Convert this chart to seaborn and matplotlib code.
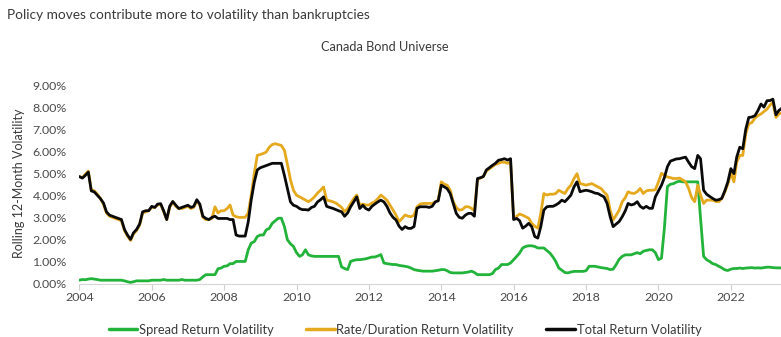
import numpy as np
import pandas as pd
import matplotlib
matplotlib.use("Agg")
import matplotlib.pyplot as plt
import matplotlib.dates as mdates
from matplotlib.lines import Line2D
import seaborn as sns

# ---------------- data (monthly, Jan 2004 - May 2023, % volatility) ----------------
start_month = "2004-01-01"

spread_vol = [
    # 2004
    0.15, 0.18, 0.17, 0.20, 0.22, 0.20, 0.18, 0.15, 0.15, 0.15, 0.15, 0.15,
    # 2005
    0.15, 0.15, 0.15, 0.12, 0.08, 0.05, 0.08, 0.12, 0.12, 0.12, 0.12, 0.12,
    # 2006
    0.15, 0.15, 0.15, 0.15, 0.18, 0.15, 0.15, 0.15, 0.15, 0.15, 0.18, 0.15,
    # 2007
    0.15, 0.15, 0.15, 0.15, 0.18, 0.30, 0.40, 0.40, 0.40, 0.40, 0.67, 0.70,
    # 2008
    0.78, 0.80, 0.90, 0.90, 1.00, 1.00, 1.00, 1.00, 1.53, 1.83, 1.90, 2.13,
    # 2009
    2.20, 2.20, 2.43, 2.50, 2.73, 2.85, 2.96, 2.96, 2.58, 1.98, 1.80, 1.68,
    # 2010
    1.40, 1.23, 1.30, 1.53, 1.30, 1.25, 1.23, 1.23, 1.23, 1.23, 1.23, 1.23,
    # 2011
    1.23, 1.23, 1.23, 0.75, 0.68, 0.63, 1.00, 1.05, 1.08, 1.08, 1.10, 1.12,
    # 2012
    1.16, 1.20, 1.20, 1.25, 1.31, 0.93, 0.90, 0.88, 0.86, 0.86, 0.82, 0.80,
    # 2013 (+1)
    0.78, 0.75, 0.70, 0.63, 0.60, 0.58, 0.56, 0.56, 0.56, 0.56, 0.58, 0.60, 0.63,
    # 2014
    0.63, 0.58, 0.50, 0.48, 0.48, 0.48, 0.48, 0.50, 0.52, 0.56, 0.50, 0.40,
    # 2015
    0.40, 0.40, 0.40, 0.40, 0.45, 0.63, 0.70, 0.86, 0.86, 0.86, 0.93, 1.08,
    # 2016
    1.23, 1.38, 1.61, 1.68, 1.71, 1.71, 1.68, 1.61, 1.61, 1.61, 1.50, 1.38,
    # 2017
    1.20, 1.00, 0.70, 0.60, 0.50, 0.48, 0.52, 0.55, 0.55, 0.55, 0.55, 0.58,
    # 2018
    0.78, 0.78, 0.78, 0.75, 0.72, 0.70, 0.68, 0.63, 0.65, 0.86, 1.10, 1.23,
    # 2019
    1.30, 1.30, 1.30, 1.35, 1.40, 1.35, 1.46, 1.50, 1.53, 1.53, 1.40, 1.08,
    # 2020
    1.15, 2.50, 4.40, 4.50, 4.53, 4.60, 4.64, 4.61, 4.61, 4.61, 4.61, 4.61,
    # 2021
    4.61, 2.96, 1.23, 1.08, 1.00, 0.90, 0.86, 0.78, 0.71, 0.62, 0.59, 0.65,
    # 2022
    0.68, 0.68, 0.70, 0.68, 0.70, 0.71, 0.72, 0.70, 0.71, 0.70, 0.72, 0.74,
    # 2023
    0.74, 0.72, 0.71, 0.71, 0.70,
]

rate_vol = [
    4.85, 4.80, 4.95, 5.10, 4.25, 4.20, 4.05, 3.85, 3.60, 3.20, 3.05, 3.00,
    2.95, 2.90, 2.85, 2.40, 2.15, 1.95, 2.25, 2.40, 2.65, 3.20, 3.25, 3.30,
    3.45, 3.45, 3.55, 3.60, 3.25, 2.90, 3.45, 3.70, 3.50, 3.40, 3.40, 3.45,
    3.50, 3.40, 3.45, 3.75, 3.55, 3.00, 2.90, 2.90, 2.95, 3.48, 3.20, 3.30,
    3.30, 3.40, 3.56, 3.10, 3.03, 3.00, 3.00, 3.00, 3.20, 4.00, 5.00, 5.81,
    5.85, 5.90, 5.96, 6.18, 6.30, 6.34, 6.30, 6.26, 6.04, 5.40, 4.70, 4.23,
    4.00, 3.93, 3.86, 3.78, 3.71, 3.80, 3.93, 4.10, 4.23, 4.38, 3.78, 3.75,
    3.71, 3.65, 3.56, 3.45, 3.26, 3.40, 3.63, 3.85, 4.01, 3.56, 3.60, 3.56,
    3.56, 3.65, 3.71, 3.85, 4.01, 3.90, 3.78, 3.55, 3.33, 3.10, 2.81, 2.95,
    3.11, 3.05, 3.03, 3.10, 3.48, 3.60, 3.63, 3.63, 3.63, 3.63, 3.70, 3.78, 4.61,
    4.50, 4.46, 4.23, 3.71, 3.45, 3.33, 3.35, 3.48, 3.48, 3.41, 3.30, 4.70,
    4.78, 4.85, 5.10, 5.20, 5.30, 5.40, 5.45, 5.50, 5.50, 5.45, 5.50, 2.95,
    3.05, 3.15, 3.10, 3.03, 2.96, 2.73, 2.60, 2.51, 3.18, 4.08, 4.01, 4.05,
    4.05, 4.08, 4.23, 4.15, 4.08, 4.30, 4.46, 4.76, 4.98, 4.53, 4.50, 4.46,
    4.50, 4.53, 4.45, 4.38, 4.31, 4.15, 4.01, 3.33, 2.88, 3.10, 3.33, 3.71,
    3.90, 4.16, 4.10, 4.08, 4.16, 4.31, 4.08, 4.20, 4.23, 4.23, 4.25, 4.60,
    5.00, 4.91, 4.83, 4.80, 4.76, 4.76, 4.78, 4.70, 4.61, 4.31, 3.90, 3.71,
    4.46, 4.01, 3.63, 3.78, 3.78, 3.78, 3.72, 3.71, 3.85, 4.15, 4.50, 5.00,
    4.61, 5.50, 5.81, 5.81, 6.80, 7.24, 7.30, 7.50, 7.61, 7.69, 7.80, 7.91,
    8.10, 8.21, 7.53, 7.69, 7.75,
]

total_vol = [
    4.85, 4.78, 4.90, 5.05, 4.20, 4.15, 4.00, 3.85, 3.65, 3.25, 3.10, 3.05,
    3.00, 2.95, 2.90, 2.45, 2.20, 2.00, 2.30, 2.45, 2.70, 3.25, 3.30, 3.30,
    3.50, 3.45, 3.60, 3.62, 3.30, 2.90, 3.50, 3.72, 3.55, 3.40, 3.45, 3.50,
    3.55, 3.45, 3.50, 3.80, 3.60, 3.05, 2.95, 2.90, 3.00, 3.05, 2.95, 2.95,
    2.95, 2.95, 2.90, 2.90, 2.20, 2.15, 2.15, 2.15, 2.80, 3.80, 4.60, 5.15,
    5.25, 5.30, 5.35, 5.40, 5.45, 5.45, 5.45, 5.45, 4.90, 4.30, 3.70, 3.55,
    3.50, 3.40, 3.35, 3.35, 3.33, 3.45, 3.50, 3.70, 3.80, 3.93, 3.50, 3.45,
    3.41, 3.35, 3.30, 3.25, 3.05, 3.20, 3.48, 3.70, 3.93, 3.40, 3.55, 3.40,
    3.33, 3.50, 3.60, 3.70, 3.78, 3.70, 3.50, 3.20, 3.00, 2.88, 2.60, 2.45,
    2.58, 2.50, 2.50, 2.58, 3.41, 3.48, 3.48, 3.48, 3.45, 3.50, 3.70, 3.75, 4.46,
    4.38, 4.30, 4.08, 3.63, 3.18, 3.00, 2.96, 3.10, 3.18, 3.18, 3.05, 4.76,
    4.80, 4.85, 5.15, 5.25, 5.36, 5.45, 5.59, 5.62, 5.66, 5.60, 5.66, 2.90,
    2.95, 2.85, 2.51, 2.60, 2.73, 2.58, 2.13, 2.06, 2.58, 3.33, 3.48, 3.50,
    3.50, 3.56, 3.65, 3.78, 3.71, 3.85, 4.01, 4.38, 4.61, 4.16, 4.20, 4.23,
    4.20, 4.16, 4.10, 4.08, 4.00, 3.93, 3.63, 3.03, 2.58, 2.70, 2.81, 3.03,
    3.30, 3.63, 3.56, 3.60, 3.71, 3.50, 3.41, 3.50, 3.41, 3.41, 3.93, 4.20,
    4.46, 4.80, 5.30, 5.55, 5.60, 5.65, 5.66, 5.70, 5.73, 5.50, 5.30, 5.21,
    5.81, 5.66, 4.23, 4.05, 3.95, 3.86, 3.78, 3.80, 3.86, 4.20, 4.60, 5.21,
    4.98, 5.73, 6.18, 6.11, 7.01, 7.53, 7.55, 7.61, 7.84, 8.14, 8.00, 8.29,
    8.30, 8.36, 7.65, 7.85, 7.95,
]

series_names = ["Spread Return Volatility",
                "Rate/Duration Return Volatility",
                "Total Return Volatility"]
series_colors = ["#22B33A", "#E5A91E", "#0A0A0A"]

title_text = "Policy moves contribute more to volatility than bankruptcies"
subtitle_text = "Canada Bond Universe"
ylabel_text = "Rolling 12-Month Volatility"
y_ticks = [0, 1, 2, 3, 4, 5, 6, 7, 8, 9]

# ---------------- build long table ----------------
n = len(total_vol)
dates = pd.date_range(start_month, periods=n, freq="MS")
df = pd.concat([
    pd.DataFrame({"date": dates, "value": vals, "series": name})
    for name, vals in zip(series_names, [spread_vol, rate_vol, total_vol])
], ignore_index=True)

# ---------------- figure ----------------
sns.set_theme(style="white")
plt.rcParams["font.family"] = ["Lato", "DejaVu Sans"]

W, H = 781, 337
fig = plt.figure(figsize=(W / 100, H / 100), dpi=100)
ax_left = 79.3 / W
ax_bottom = (H - 283.5) / H
ax_height = 9.25 * 22.05 / H
ax = fig.add_axes([ax_left, ax_bottom, 1 - ax_left, ax_height])

palette = dict(zip(series_names, series_colors))
sns.lineplot(data=df, x="date", y="value", hue="series", hue_order=series_names,
             palette=palette, linewidth=2.0, ax=ax, legend=False)

ax.set_xlim(pd.Timestamp("2004-01-01"), pd.Timestamp("2023-05-22"))
ax.set_ylim(0, 9.25)
ax.set_yticks(y_ticks)
ax.set_yticklabels([f"{v:.2f}%" for v in y_ticks])
ax.xaxis.set_major_locator(mdates.YearLocator(2))
ax.xaxis.set_major_formatter(mdates.DateFormatter("%Y"))

text_col = "#3A3A3A"
tick_col = "#4A4A4A"
ax.tick_params(axis="y", length=0, pad=9, labelsize=8.9, labelcolor=tick_col)
ax.tick_params(axis="x", length=4, width=0.8, color="#D0D0D0", pad=2,
               labelsize=8.9, labelcolor=tick_col, bottom=True)
for s in ["top", "right", "left"]:
    ax.spines[s].set_visible(False)
ax.spines["bottom"].set_color("#D6D6D6")
ax.spines["bottom"].set_linewidth(0.8)

ax.set_xlabel("")
ax.set_ylabel(ylabel_text, fontsize=9.0, color=text_col, labelpad=4)
ax.yaxis.set_label_coords(-(79.3 - 25) / (W - 79.3), (283.5 - 183) / (9.25 * 22.05))

fig.text(7 / W, 1 - 15 / H, title_text, fontsize=9.8, color=text_col,
         ha="left", va="center")
fig.text(385 / W, 1 - 47 / H, subtitle_text, fontsize=9.2, color=text_col,
         ha="center", va="center")

handles = [Line2D([0], [0], color=c, lw=2.5) for c in series_colors]
fig.legend(handles, series_names, loc="center", ncol=3,
           bbox_to_anchor=(405 / W, 1 - 330 / H), frameon=False,
           fontsize=9.3, handlelength=2.2, handletextpad=0.15,
           columnspacing=2.5, labelcolor=text_col)

fig.savefig("out.png", dpi=100)
